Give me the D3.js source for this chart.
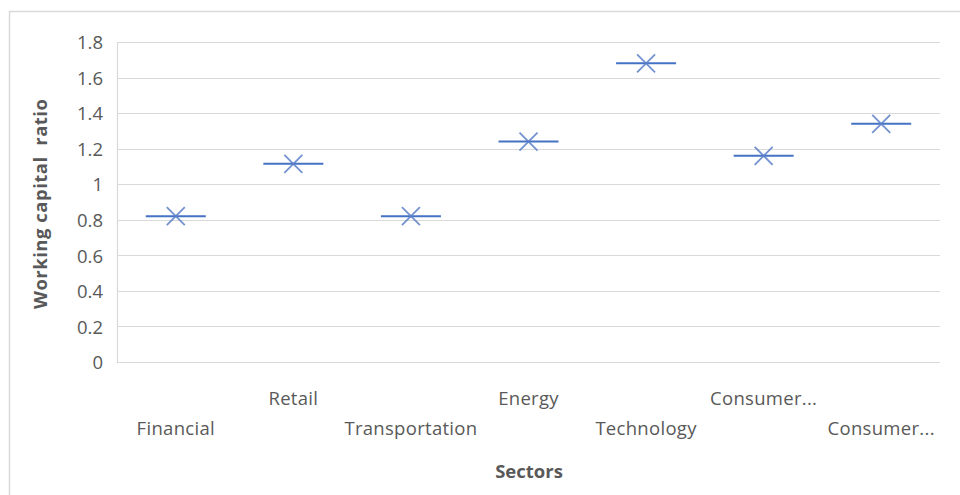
<!DOCTYPE html>
<html>
<head>
<meta charset="utf-8">
<script src="https://cdn.jsdelivr.net/npm/d3@7/dist/d3.min.js"></script>
<style>
  html, body { margin: 0; padding: 0; background: #fff; }
  svg { display: block; }
  text { font-family: "Open Sans", "Liberation Sans", sans-serif; fill: #595959; }
</style>
</head>
<body>
<svg id="chart" width="960" height="495"></svg>
<script>
// Sector labels as shown on the axis (long names are cut with an ellipsis)
const categories = ["Financial", "Retail", "Transportation", "Energy", "Technology", "Consumer...", "Consumer..."];
// Working capital ratio per sector (median line and mean marker coincide)
const medianValues = [0.82, 1.115, 0.82, 1.24, 1.68, 1.16, 1.34];
const meanValues   = [0.82, 1.115, 0.82, 1.24, 1.68, 1.16, 1.34];
const yTicks = [0, 0.2, 0.4, 0.6, 0.8, 1, 1.2, 1.4, 1.6, 1.8];
const yTitle = "Working capital  ratio";
const xTitle = "Sectors";

const svg = d3.select("#chart");
const W = 960, H = 495;
const plot = { left: 117, right: 940, top: 42, bottom: 362 };

// Outer chart frame
svg.append("rect")
  .attr("x", 9.5).attr("y", 11.5)
  .attr("width", W).attr("height", H)
  .attr("fill", "none").attr("stroke", "#d9d9d9").attr("stroke-width", 1.5);

const x = d3.scaleBand()
  .domain(d3.range(categories.length))
  .range([plot.left, plot.right]);

const y = d3.scaleLinear()
  .domain([0, 1.8])
  .range([plot.bottom, plot.top]);

// Horizontal gridlines
svg.append("g")
  .selectAll("line")
  .data(yTicks)
  .join("line")
  .attr("x1", plot.left).attr("x2", plot.right)
  .attr("y1", d => Math.round(y(d)) + 0.5).attr("y2", d => Math.round(y(d)) + 0.5)
  .attr("stroke", "#d9d9d9").attr("stroke-width", 1.2);

// Left axis line
svg.append("line")
  .attr("x1", plot.left + 0.5).attr("x2", plot.left + 0.5)
  .attr("y1", y(1.8)).attr("y2", y(0) + 1)
  .attr("stroke", "#d9d9d9").attr("stroke-width", 1.2);

// Y axis tick labels
const yAxis = d3.axisLeft(y)
  .tickValues(yTicks)
  .tickSize(0)
  .tickPadding(0)
  .tickFormat(d => d3.format("")(d));
const gy = svg.append("g")
  .attr("transform", `translate(${plot.left - 14},0)`)
  .call(yAxis);
gy.select(".domain").remove();
gy.selectAll("text")
  .style("font-family", '"Open Sans", "Liberation Sans", sans-serif')
  .style("font-size", "18.5px")
  .style("fill", "#595959")
  .attr("dy", "0.36em");

// X axis labels, staggered on two rows
svg.append("g")
  .selectAll("text")
  .data(categories)
  .join("text")
  .attr("x", (d, i) => x(i) + x.bandwidth() / 2)
  .attr("y", (d, i) => i % 2 === 1 ? 405 : 435)
  .attr("text-anchor", "middle")
  .style("font-size", "18.5px")
  .style("letter-spacing", "0.3px")
  .text(d => d);

// Median lines
const boxW = 60;
svg.append("g")
  .selectAll("line")
  .data(medianValues)
  .join("line")
  .attr("x1", (d, i) => x(i) + x.bandwidth() / 2 - boxW / 2)
  .attr("x2", (d, i) => x(i) + x.bandwidth() / 2 + boxW / 2)
  .attr("y1", d => y(d)).attr("y2", d => y(d))
  .attr("stroke", "#4472c4").attr("stroke-width", 2);

// Mean markers (X shape)
const m = 9;
svg.append("g")
  .selectAll("path")
  .data(meanValues)
  .join("path")
  .attr("d", (d, i) => {
    const cx = x(i) + x.bandwidth() / 2, cy = y(d);
    return `M${cx - m},${cy - m}L${cx + m},${cy + m}M${cx - m},${cy + m}L${cx + m},${cy - m}`;
  })
  .attr("stroke", "#5b7fc7").attr("stroke-opacity", 0.85)
  .attr("stroke-width", 1.8).attr("fill", "none");

// Axis titles
svg.append("text")
  .attr("transform", `translate(47,${(plot.top + plot.bottom) / 2 + 2}) rotate(-90)`)
  .attr("text-anchor", "middle")
  .attr("textLength", 210).attr("lengthAdjust", "spacing")
  .style("font-size", "18.5px").style("font-weight", "bold")
  .style("white-space", "pre")
  .text(yTitle);

svg.append("text")
  .attr("x", 529).attr("y", 478)
  .attr("text-anchor", "middle")
  .style("font-size", "18.5px").style("font-weight", "bold")
  .text(xTitle);
</script>
</body>
</html>
